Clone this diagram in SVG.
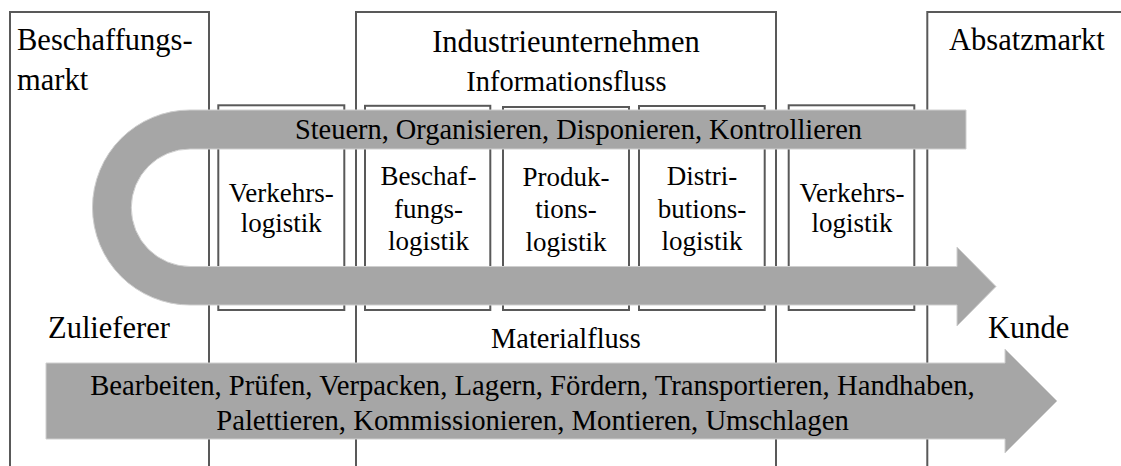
<svg xmlns="http://www.w3.org/2000/svg" width="1121" height="466" viewBox="0 0 1121 466">
  <style>
    .frame { fill: none; stroke: #595959; stroke-width: 2; }
    .box { fill: #ffffff; stroke: #595959; stroke-width: 2; }
    .flow { fill: #a6a6a6; stroke: #cfcfcf; stroke-width: 1; }
    text { font-family: 'Liberation Serif', 'Times New Roman', serif; fill: #000; }
    .big { font-size: 30.5px; }
    .mid { font-size: 28.4px; }
    .ops { font-size: 28.7px; text-anchor: middle; }
    .lbl { font-size: 27px; text-anchor: middle; }
    .c { text-anchor: middle; }
  </style>
  <rect width="1121" height="466" fill="#ffffff"/>

  <!-- market / company frames (open at the bottom) -->
  <g id="beschaffungsmarkt">
    <path class="frame" d="M10 466 V12 H209 V466"/>
    <text class="big" x="17" y="50">Beschaffungs-</text>
    <text class="big" x="17" y="90">markt</text>
  </g>
  <g id="industrieunternehmen">
    <path class="frame" d="M356 466 V12 H776 V466"/>
    <text class="big c" x="566" y="52">Industrieunternehmen</text>
    <text class="mid c" x="566.5" y="91">Informationsfluss</text>
  </g>
  <g id="absatzmarkt">
    <path class="frame" d="M927.3 466 V12 H1125"/>
    <text class="big" x="949" y="50">Absatzmarkt</text>
  </g>

  <!-- logistics areas -->
  <g id="verkehrslogistik-1">
    <rect class="box" x="218.3" y="105.3" width="126" height="204.7"/>
    <text class="lbl" x="281.3" y="201.7">Verkehrs-</text>
    <text class="lbl" x="281.3" y="231.7">logistik</text>
  </g>
  <g id="beschaffungslogistik">
    <rect class="box" x="365" y="105.8" width="125.3" height="204.2"/>
    <text class="lbl" x="428.5" y="185">Beschaf-</text>
    <text class="lbl" x="428.5" y="218">fungs-</text>
    <text class="lbl" x="428.5" y="250">logistik</text>
  </g>
  <g id="produktionslogistik">
    <rect class="box" x="503" y="107" width="126" height="203"/>
    <text class="lbl" x="566" y="185.5">Produk-</text>
    <text class="lbl" x="566" y="218">tions-</text>
    <text class="lbl" x="566" y="250.5">logistik</text>
  </g>
  <g id="distributionslogistik">
    <rect class="box" x="639" y="106" width="125.7" height="204"/>
    <text class="lbl" x="702" y="185">Distri-</text>
    <text class="lbl" x="702" y="218">butions-</text>
    <text class="lbl" x="702" y="250">logistik</text>
  </g>
  <g id="verkehrslogistik-2">
    <rect class="box" x="788.7" y="105.3" width="125.6" height="204.7"/>
    <text class="lbl" x="852" y="201.7">Verkehrs-</text>
    <text class="lbl" x="852" y="231.7">logistik</text>
  </g>

  <!-- endpoints -->
  <g id="zulieferer">
    <text class="big" x="48" y="338">Zulieferer</text>
  </g>
  <g id="kunde">
    <text class="big" x="988" y="338">Kunde</text>
  </g>
  <g id="materialfluss-label">
    <text class="mid c" x="566" y="348">Materialfluss</text>
  </g>

  <!-- flows -->
  <g id="connectors">
    <g id="informationsfluss">
      <path class="flow" d="M966 110 L190 110 A97.5 97.5 0 0 0 190 305 L957 305 L957 326 L996 286.5 L957 247 L957 266.5 L190 266.5 A58.5 58.5 0 0 1 190 149 L966 149 Z"/>
      <text class="mid c" x="578.5" y="139">Steuern, Organisieren, Disponieren, Kontrollieren</text>
    </g>
    <g id="materialfluss">
      <path class="flow" d="M46 363 L1005 363 L1005 349 L1057 401 L1005 453 L1005 439 L46 439 Z"/>
      <text class="ops" x="532.5" y="395">Bearbeiten, Prüfen, Verpacken, Lagern, Fördern, Transportieren, Handhaben,</text>
      <text class="ops" x="532.5" y="430">Palettieren, Kommissionieren, Montieren, Umschlagen</text>
    </g>
  </g>
</svg>
